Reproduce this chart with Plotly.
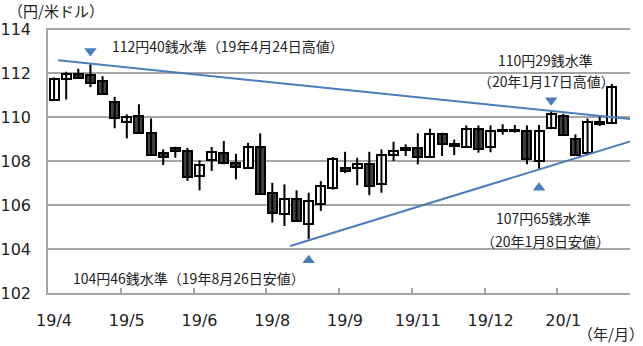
import plotly.graph_objects as go

# Weekly USD/JPY candles (week ending Fridays, 2019/4/5 .. 2020/2/21)
opens  = [110.77, 111.71, 111.94, 111.90, 111.64, 110.70, 109.79, 110.05, 109.29, 108.38,
          108.58, 108.45, 107.32, 108.05, 108.38, 107.92, 107.70, 108.65, 106.53, 105.58,
          106.29, 105.12, 106.06, 106.76, 107.70, 107.67, 107.88, 106.94, 108.27, 108.49,
          108.60, 108.18, 109.21, 108.76, 108.64, 109.47, 108.64, 109.42, 109.40, 109.36,
          108.00, 109.49, 110.05, 109.01, 108.38, 109.79, 109.74]
highs  = [111.80, 112.06, 112.20, 112.40, 111.86, 110.92, 110.12, 110.58, 109.94, 108.53,
          108.65, 108.60, 108.03, 108.64, 108.91, 108.33, 108.83, 109.26, 107.01, 106.94,
          106.67, 106.56, 107.09, 108.18, 108.42, 108.15, 108.42, 108.53, 108.88, 108.76,
          109.26, 109.47, 109.29, 108.98, 109.62, 109.62, 109.62, 109.67, 109.64, 109.62,
          109.64, 110.29, 110.15, 109.21, 109.94, 110.05, 111.51]
lows   = [110.77, 110.80, 111.74, 111.36, 111.06, 109.49, 109.03, 109.26, 108.27, 107.82,
          108.15, 107.10, 106.67, 107.55, 107.85, 107.17, 107.65, 106.49, 105.20, 105.05,
          105.27, 104.46, 105.73, 106.70, 107.45, 106.90, 106.45, 106.56, 108.00, 108.23,
          107.85, 108.18, 108.23, 108.27, 108.60, 108.38, 108.40, 109.20, 109.29, 107.85,
          107.65, 109.45, 109.15, 108.25, 108.35, 109.59, 109.70]
closes = [111.75, 111.97, 111.79, 111.53, 111.06, 109.94, 110.01, 109.26, 108.27, 108.20,
          108.45, 107.27, 107.82, 108.42, 107.89, 107.74, 108.64, 106.49, 105.65, 106.29,
          105.27, 106.18, 106.86, 108.10, 107.55, 107.88, 106.86, 108.26, 108.45, 108.60,
          108.18, 109.21, 108.76, 108.68, 109.47, 108.53, 109.36, 109.36, 109.36, 108.08,
          109.36, 110.12, 109.18, 108.27, 109.79, 109.70, 111.36]
n_slots = 48
tick_idx = [0, 6, 12, 18, 24, 30, 36, 42]
tick_text = ["19/4", "19/5", "19/6", "19/8", "19/9", "19/11", "19/12", "20/1"]

# trend lines (slot index, value)
upper_line_x = [0.34, 47.7]
upper_line_y = [112.58, 109.90]
lower_line_x = [19.48, 47.8]
lower_line_y = [104.14, 108.94]

# markers / notes
marks = [  # (x, y, symbol)
    (3, 113.0, "triangle-down"),
    (41, 110.76, "triangle-down"),
    (21, 103.49, "triangle-up"),
    (40, 106.79, "triangle-up"),
]
notes = [  # (x, y, text, xanchor)
    (4.65, 113.23, "112円40銭水準（19年4月24日高値）", "left"),
    (40.5, 112.58, "110円29銭水準", "center"),
    (40.65, 111.64, "（20年1月17日高値）", "center"),
    (11.15, 102.70, "104円46銭水準（19年8月26日安値）", "center"),
    (40.35, 105.40, "107円65銭水準", "center"),
    (40.5, 104.36, "（20年1月8日安値）", "center"),
]

BLUE = "#4a7ebb"
GRID = "#a6a6a6"
DARK = "#404040"
CJK = "Noto Sans CJK JP"

xs = list(range(len(opens)))
fig = go.Figure()

# wicks
wx, wy = [], []
for i in xs:
    wx += [i, i, None]
    wy += [lows[i], highs[i], None]
fig.add_trace(go.Scatter(x=wx, y=wy, mode="lines", line=dict(color="black", width=2),
                         hoverinfo="skip", showlegend=False))

# bodies
base = [min(o, c) for o, c in zip(opens, closes)]
height = [max(abs(c - o), 0.04) for o, c in zip(opens, closes)]
colors = ["white" if c > o else DARK for o, c in zip(opens, closes)]
fig.add_trace(go.Bar(x=xs, y=height, base=base, width=0.74,
                     marker=dict(color=colors, line=dict(color="black", width=2)),
                     showlegend=False))

# trend lines
fig.add_trace(go.Scatter(x=upper_line_x, y=upper_line_y, mode="lines",
                         line=dict(color=BLUE, width=2), showlegend=False))
fig.add_trace(go.Scatter(x=lower_line_x, y=lower_line_y, mode="lines",
                         line=dict(color=BLUE, width=2), showlegend=False))

# triangles
fig.add_trace(go.Scatter(x=[m[0] for m in marks], y=[m[1] for m in marks], mode="markers",
                         marker=dict(symbol=[m[2] for m in marks], size=11, color=BLUE),
                         showlegend=False))

# tick marks at slot boundaries (overlay axis)
fig.add_trace(go.Scatter(x=[0], y=[108], xaxis="x2", mode="markers",
                         marker=dict(opacity=0), showlegend=False, hoverinfo="skip"))

for x, y, t, xa in notes:
    fig.add_annotation(x=x, y=y, text=t, showarrow=False, xanchor=xa, yanchor="middle",
                       font=dict(family=CJK, size=14, color="#222"))

fig.add_annotation(xref="paper", yref="paper", x=-0.072, y=1.065, text="（円/米ドル）",
                   showarrow=False, xanchor="left", yanchor="middle",
                   font=dict(family=CJK, size=15, color="#222"))
fig.add_annotation(xref="paper", yref="paper", x=1.028, y=-0.152, text="（年/月）",
                   showarrow=False, xanchor="right", yanchor="middle",
                   font=dict(family=CJK, size=15, color="#222"))

fig.update_layout(
    width=643, height=346,
    margin=dict(l=48, r=13, t=28, b=53, autoexpand=False),
    paper_bgcolor="white", plot_bgcolor="white",
    bargap=0, barmode="overlay",
    xaxis=dict(range=[-0.5, n_slots - 0.5], tickvals=tick_idx, ticktext=tick_text,
               automargin=False,
               showgrid=False, zeroline=False, showline=True, linecolor=GRID, linewidth=1.5,
               ticks="outside", ticklen=12, tickcolor="rgba(0,0,0,0)",
               tickfont=dict(family="DejaVu Sans", size=16, color="#222")),
    xaxis2=dict(range=[-0.5, n_slots - 0.5], overlaying="x", side="bottom",
                automargin=False,
                tickvals=[k * 6 - 0.5 for k in range(1, 9)], ticks="inside", ticklen=5,
                tickwidth=1.5, tickcolor=GRID, showticklabels=False, showgrid=False,
                zeroline=False, showline=False),
    yaxis=dict(range=[102, 114.05], dtick=2, tick0=102, showgrid=True, gridcolor=GRID,
               automargin=False,
               gridwidth=1.5, zeroline=False, showline=True, linecolor=GRID, linewidth=1.5,
               ticks="outside", ticklen=12, tickcolor="rgba(0,0,0,0)",
               tickfont=dict(family="DejaVu Sans", size=16, color="#222")),
)

fig.write_html("out.html")
